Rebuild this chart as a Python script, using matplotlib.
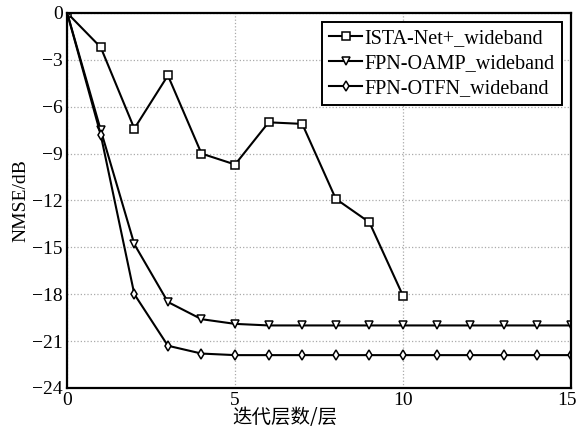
import matplotlib
matplotlib.use('Agg')
import matplotlib.pyplot as plt
import matplotlib.transforms as mtransforms
import numpy as np

# iterations (layers)
layers = list(range(16))
ista_layers = list(range(11))

# NMSE (dB)
ista_nmse = [0, -2.2, -7.4, -4.0, -9.0, -9.7, -7.0, -7.1, -11.9, -13.4, -18.1]
oamp_nmse = [0, -7.5, -14.8, -18.5, -19.6, -19.9, -20.0, -20.0, -20.0, -20.0,
             -20.0, -20.0, -20.0, -20.0, -20.0, -20.0]
otfn_nmse = [0, -7.8, -18.0, -21.3, -21.8, -21.9, -21.9, -21.9, -21.9, -21.9,
             -21.9, -21.9, -21.9, -21.9, -21.9, -21.9]

labels = ['ISTA-Net+_wideband', 'FPN-OAMP_wideband', 'FPN-OTFN_wideband']

plt.rcParams['font.family'] = ['Liberation Serif', 'DejaVu Serif']

fig = plt.figure(figsize=(5.79, 4.32), dpi=100)
ax = fig.add_axes([0.116, 0.102, 0.870, 0.868])

mk = dict(color='black', linewidth=1.5, markerfacecolor='white',
          markeredgecolor='black', markersize=5.5, markeredgewidth=1.1)
ax.plot(ista_layers, ista_nmse, marker='s', label=labels[0], **mk)
ax.plot(layers, oamp_nmse, marker='v', label=labels[1], **mk)
ax.plot(layers, otfn_nmse, marker='d', label=labels[2], **mk)

ax.set_xlim(0, 15)
ax.set_ylim(-24, 0)
ax.set_xticks([0, 5, 10, 15])
yt = np.arange(-24, 1, 3)
ax.set_yticks(yt)
ax.set_yticklabels(['\u2212%d' % abs(v) if v < 0 else '0' for v in yt])
ax.grid(True, color='#aaaaaa', linestyle=':', linewidth=0.9)
ax.tick_params(direction='in', length=0, labelsize=14, pad=3)
for s in ax.spines.values():
    s.set_linewidth(1.6)

# nudge the last x tick label so it stays inside the figure
last = ax.get_xticklabels()[-1]
last.set_transform(last.get_transform() +
                   mtransforms.ScaledTranslation(-4 / 100, 0, fig.dpi_scale_trans))

ax.set_ylabel('NMSE/dB', fontsize=14, labelpad=2)
ax.set_xlabel('迭代层数/层', fontsize=14,
              family=['Noto Sans CJK SC', 'DejaVu Sans'])
ax.xaxis.set_label_coords(0.433, -0.052)

leg = ax.legend(loc='upper right', fontsize=14.5, frameon=True, fancybox=False,
                handlelength=1.6, handletextpad=0.15, borderpad=0.35,
                labelspacing=0.3, borderaxespad=0.45)
leg.get_frame().set_edgecolor('black')
leg.get_frame().set_linewidth(1.4)
leg.get_frame().set_alpha(1)

fig.savefig('out.png', dpi=100)
